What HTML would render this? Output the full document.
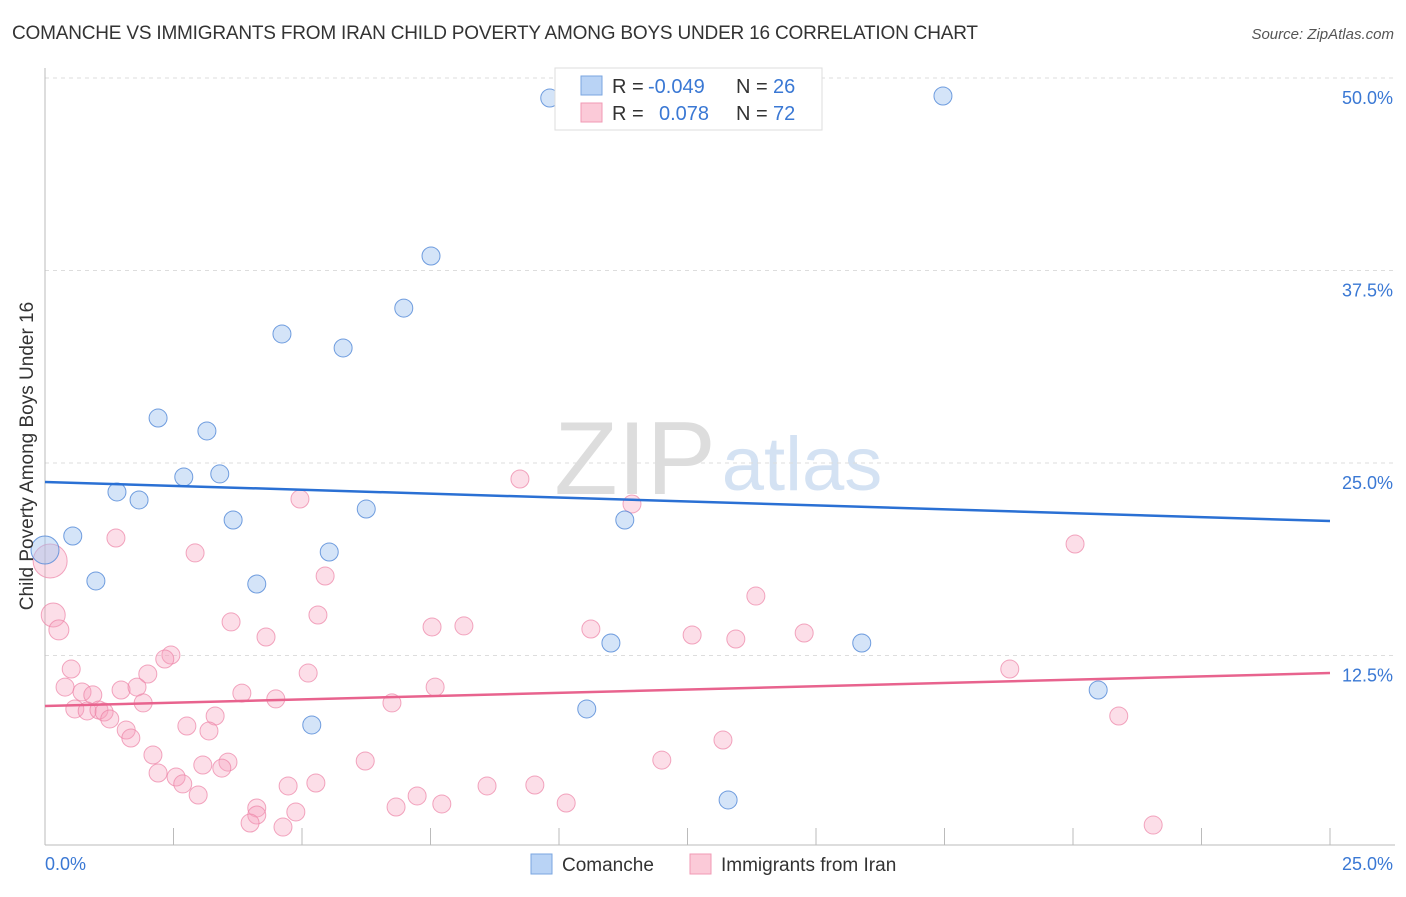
<!DOCTYPE html>
<html><head><meta charset="utf-8"><style>
body{margin:0;background:#fff;font-family:"Liberation Sans",sans-serif}
svg text{font-family:"Liberation Sans",sans-serif}
</style></head><body>
<svg id="chart" width="1406" height="892" xmlns="http://www.w3.org/2000/svg">
<text x="12" y="39" font-size="19" fill="#333" textLength="966">COMANCHE VS IMMIGRANTS FROM IRAN CHILD POVERTY AMONG BOYS UNDER 16 CORRELATION CHART</text>
<text x="1394" y="39" font-size="15" fill="#555" text-anchor="end" font-style="italic">Source: ZipAtlas.com</text>
<g>
<text x="635" y="494" font-size="104" fill="#ddd" font-family="Liberation Serif,serif" text-anchor="middle">ZIP</text>
<text x="802" y="490" font-size="76" fill="#d4e2f3" text-anchor="middle">atlas</text>
</g>
<g id="grid"></g>
<g id="axes"></g>
<g id="marks"></g>
<text transform="translate(33,456) rotate(-90)" font-size="19" fill="#333" text-anchor="middle">Child Poverty Among Boys Under 16</text>
<g>
<rect x="555" y="68" width="267" height="62" fill="#fff" stroke="#ddd"/>
<rect x="581" y="76" width="21" height="19" fill="#b9d3f5" stroke="#7aa6e0"/>
<rect x="581" y="103" width="21" height="19" fill="#fbcad8" stroke="#f09ab4"/>
<text x="612" y="93" font-size="20" fill="#333">R = <tspan fill="#3a78d4" x="648">-0.049</tspan><tspan x="736">N = </tspan><tspan fill="#3a78d4" x="773">26</tspan></text>
<text x="612" y="120" font-size="20" fill="#333">R = <tspan fill="#3a78d4" x="659">0.078</tspan><tspan x="736">N = </tspan><tspan fill="#3a78d4" x="773">72</tspan></text>
</g>
<g>
<rect x="531" y="854" width="21" height="20" fill="#b9d3f5" stroke="#7aa6e0"/>
<text x="562" y="871" font-size="19" fill="#333">Comanche</text>
<rect x="690" y="854" width="21" height="20" fill="#fbcad8" stroke="#f09ab4"/>
<text x="721" y="871" font-size="19" fill="#333">Immigrants from Iran</text>
</g>
</svg>
<script>
const yTicks=[12.5,25,37.5,50];
const yTickLabels=["12.5%","25.0%","37.5%","50.0%"];
const xTicks=[0,2.5,5,7.5,10,12.5,15,17.5,20,22.5,25];
const xEndLabels=["0.0%","25.0%"];
const blueX=[0,0.54,0.99,1.40,1.83,2.20,2.70,3.15,3.40,3.66,4.12,4.61,5.19,5.53,5.80,6.25,6.98,7.51,9.82,10.54,11.01,11.28,13.29,15.89,17.47,20.49];
const blueY=[19.35,20.26,17.34,23.12,22.6,27.92,24.09,27.08,24.29,21.3,17.14,33.38,7.99,19.22,32.47,22.01,35.06,38.44,48.7,9.03,13.31,21.3,3.12,13.31,48.83,10.26];
const blueSize=[14,9,9,9,9,9,9,9,9,9,9,9,9,9,9,9,9,9,9,9,9,9,9,9,9,9];
const pinkX=[1.38,2.92,5.45,5.31,3.62,4.30,0.16,0.27,0.10,2.45,2.33,0.51,2.00,5.12,0.39,0.72,0.93,1.48,1.79,3.83,4.49,1.91,0.58,0.82,1.05,1.15,1.26,3.31,2.76,3.19,1.58,1.67,2.10,3.07,3.56,3.44,2.20,2.55,2.68,2.98,4.73,5.27,6.23,4.12,4.12,3.99,4.88,4.63,4.96,9.24,11.42,13.83,7.53,8.15,10.62,12.59,13.44,14.77,7.59,6.75,20.04,18.77,20.89,13.19,12.00,8.60,9.53,10.14,7.24,7.72,6.83,21.56];
const pinkY=[20.13,19.16,17.66,15.13,14.68,13.70,15.13,14.16,18.64,12.53,12.27,11.62,11.30,11.36,10.45,10.13,9.94,10.26,10.45,10.06,9.68,9.42,9.03,8.90,8.96,8.83,8.38,8.57,7.92,7.60,7.66,7.14,6.04,5.39,5.58,5.19,4.87,4.61,4.16,3.44,4.03,4.22,5.65,2.60,2.14,1.62,2.34,1.36,22.66,23.96,22.34,16.36,14.35,14.42,14.22,13.83,13.57,13.96,10.45,9.42,19.74,11.62,8.57,7.01,5.71,4.03,4.09,2.92,3.38,2.86,2.66,1.49];
const pinkSize=[9,9,9,9,9,9,12,10,17,9,9,9,9,9,9,9,9,9,9,9,9,9,9,9,9,9,9,9,9,9,9,9,9,9,9,9,9,9,9,9,9,9,9,9,9,9,9,9,9,9,9,9,9,9,9,9,9,9,9,9,9,9,9,9,9,9,9,9,9,9,9,9];
const blueTrend=[23.77,21.23];
const pinkTrend=[9.22,11.36];
const NS="http://www.w3.org/2000/svg";
const X=v=>45+v*51.4;
const Y=v=>848-v*15.4;
function mk(tag,attrs,parent){const e=document.createElementNS(NS,tag);for(const k in attrs)e.setAttribute(k,attrs[k]);parent.appendChild(e);return e;}
const grid=document.getElementById('grid'),axes=document.getElementById('axes'),marks=document.getElementById('marks');
yTicks.forEach((t,i)=>{
 const l=mk('line',{x1:45,x2:1395,y1:Y(t),y2:Y(t),stroke:'#ddd','stroke-dasharray':'4,4'},grid);
 
 
 const tx=mk('text',{x:1393,y:Y(t)+26,'font-size':18,fill:'#3a78d4','text-anchor':'end'},grid);
 tx.textContent=yTickLabels[i];
 
 
});
const ax=mk('line',{x1:45,x2:45,y1:68,y2:845,stroke:'#bbb'},axes);


const bx=mk('line',{x1:45,x2:1395,y1:845,y2:845,stroke:'#bbb'},axes);


xTicks.forEach(t=>{
 const l=mk('line',{x1:X(t),x2:X(t),y1:828,y2:845,stroke:'#bbb'},axes);
 
 
});
const xl0=mk('text',{x:45,y:870,'font-size':18,fill:'#3a78d4'},axes);xl0.textContent=xEndLabels[0];


const xl1=mk('text',{x:1393,y:870,'font-size':18,fill:'#3a78d4','text-anchor':'end'},axes);xl1.textContent=xEndLabels[1];


pinkX.forEach((x,i)=>{
 const c=mk('circle',{cx:X(x),cy:Y(pinkY[i]),r:pinkSize[i],fill:'rgba(246,160,188,0.35)',stroke:'rgba(236,130,165,0.7)','stroke-width':1},marks);
 
 
});
blueX.forEach((x,i)=>{
 const c=mk('circle',{cx:X(x),cy:Y(blueY[i]),r:blueSize[i],fill:'rgba(160,196,240,0.45)',stroke:'rgba(80,135,215,0.8)','stroke-width':1},marks);
 
 
});
const bt=mk('line',{x1:X(0),x2:X(25),y1:Y(blueTrend[0]),y2:Y(blueTrend[1]),stroke:'#2a70d4','stroke-width':2.5},marks);


const pt=mk('line',{x1:X(0),x2:X(25),y1:Y(pinkTrend[0]),y2:Y(pinkTrend[1]),stroke:'#e8638e','stroke-width':2.5},marks);


</script>
</body></html>
